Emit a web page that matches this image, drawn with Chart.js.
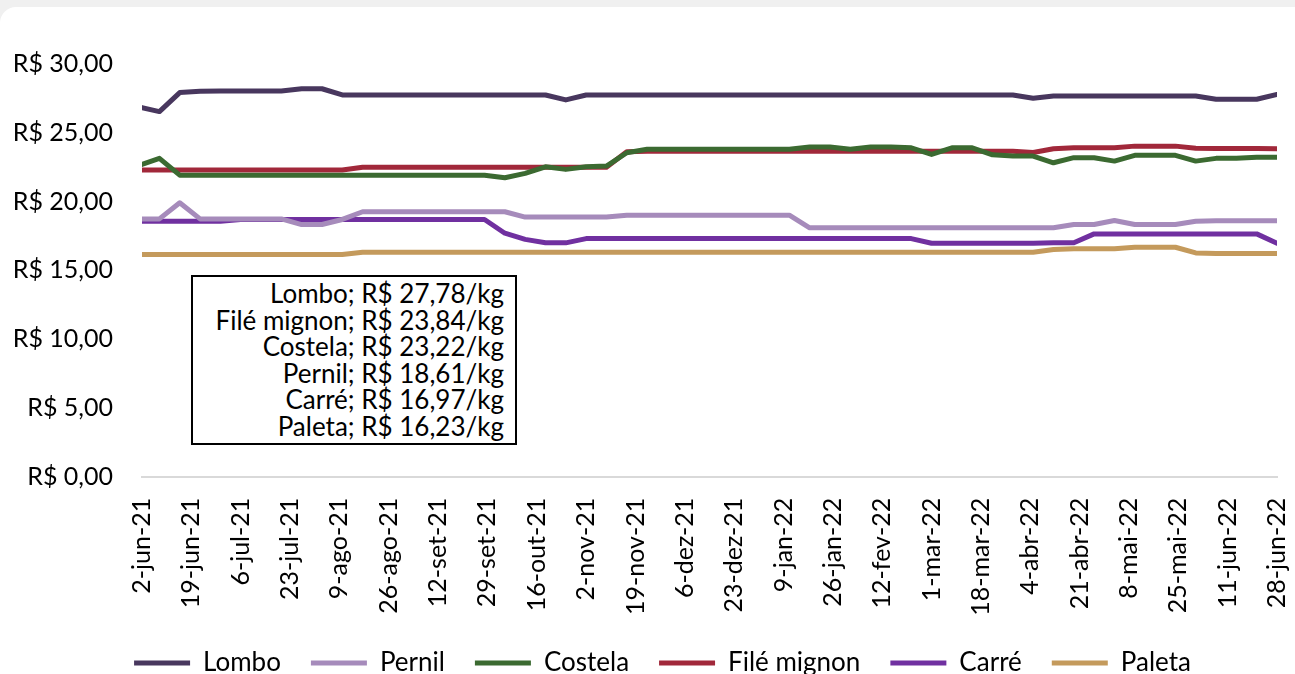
<!DOCTYPE html>
<html>
<head>
<meta charset="utf-8">
<script src="https://cdn.jsdelivr.net/npm/chart.js@4.4.1/dist/chart.umd.min.js"></script>
<style>
    html, body { margin: 0; padding: 0; background: #f0f0f0; overflow: hidden; width: 1295px; height: 674px; }
    #painel { position: absolute; left: 0; top: 7px; width: 1330px; height: 720px; background: #fff; border-top-left-radius: 16px; }
    #grafico { position: absolute; left: 0; top: 0; }
    #caixa {
        position: absolute; left: 191px; top: 268px; width: 326px; height: 170px;
        border: 2px solid #000; background: #fff; box-sizing: border-box;
        font-family: Lato, sans-serif; font-size: 26px; line-height: 26.5px;
        text-align: right; padding: 3px 11px 0 0; color: #000;
    }
</style>
</head>
<body>
<div id="painel">
    <canvas id="grafico" width="1295" height="700"></canvas>
    <div id="caixa"></div>
</div>
<script>
// dias desde 2-jun-21
const dias = [0, 6, 13, 20, 27, 34, 41, 48, 55, 62, 69, 76, 83, 90, 97, 104, 111, 118, 125, 132,
    139, 146, 153, 160, 167, 174, 181, 188, 195, 202, 209, 216, 223, 230, 237, 244, 251, 258, 265, 272,
    279, 286, 293, 300, 307, 314, 321, 328, 335, 342, 349, 356, 363, 370, 377, 384, 391];

const lombo = [26.83, 26.54, 27.92, 28.02, 28.03, 28.03, 28.03, 28.03, 28.2, 28.2,
    27.75, 27.75, 27.75, 27.75, 27.75, 27.75, 27.75, 27.75, 27.75, 27.75,
    27.75, 27.39, 27.75, 27.75, 27.75, 27.75, 27.75, 27.75, 27.75, 27.75,
    27.75, 27.75, 27.75, 27.75, 27.75, 27.75, 27.75, 27.75, 27.75, 27.75,
    27.75, 27.75, 27.75, 27.75, 27.51, 27.68, 27.68, 27.68, 27.68, 27.68,
    27.68, 27.68, 27.68, 27.44, 27.44, 27.44, 27.78];

const pernil = [18.74, 18.74, 19.91, 18.74, 18.74, 18.74, 18.74, 18.74, 18.33, 18.33,
    18.7, 19.26, 19.26, 19.26, 19.26, 19.26, 19.26, 19.26, 19.26, 18.87,
    18.87, 18.87, 18.87, 18.87, 19.01, 19.01, 19.01, 19.01, 19.01, 19.01,
    19.01, 19.01, 19.01, 18.09, 18.09, 18.09, 18.09, 18.09, 18.09, 18.09,
    18.09, 18.09, 18.09, 18.09, 18.09, 18.09, 18.33, 18.33, 18.62, 18.33,
    18.33, 18.33, 18.57, 18.6, 18.6, 18.6, 18.61];

const costela = [22.7, 23.14, 21.92, 21.92, 21.92, 21.92, 21.92, 21.92, 21.92, 21.92,
    21.92, 21.92, 21.92, 21.92, 21.92, 21.92, 21.92, 21.92, 21.73, 22.05,
    22.53, 22.34, 22.53, 22.58, 23.55, 23.8, 23.8, 23.8, 23.8, 23.8,
    23.8, 23.8, 23.8, 23.96, 23.96, 23.8, 23.96, 23.96, 23.91, 23.43,
    23.91, 23.91, 23.4, 23.31, 23.31, 22.82, 23.19, 23.19, 22.94, 23.36,
    23.36, 23.36, 22.94, 23.14, 23.14, 23.22, 23.22];

const fileMignon = [22.29, 22.29, 22.29, 22.29, 22.29, 22.29, 22.29, 22.29, 22.29, 22.29,
    22.29, 22.5, 22.5, 22.5, 22.5, 22.5, 22.5, 22.5, 22.5, 22.5,
    22.5, 22.5, 22.5, 22.5, 23.62, 23.65, 23.65, 23.65, 23.65, 23.65,
    23.65, 23.65, 23.65, 23.65, 23.65, 23.65, 23.65, 23.65, 23.65, 23.65,
    23.65, 23.65, 23.65, 23.65, 23.57, 23.84, 23.91, 23.91, 23.91, 24.03,
    24.03, 24.03, 23.87, 23.86, 23.86, 23.86, 23.84];

const carre = [18.57, 18.57, 18.57, 18.57, 18.57, 18.7, 18.7, 18.7, 18.7, 18.7,
    18.7, 18.7, 18.7, 18.7, 18.7, 18.7, 18.7, 18.7, 17.7, 17.25,
    17.0, 17.0, 17.31, 17.31, 17.31, 17.31, 17.31, 17.31, 17.31, 17.31,
    17.31, 17.31, 17.31, 17.31, 17.31, 17.31, 17.31, 17.31, 17.31, 16.97,
    16.97, 16.97, 16.97, 16.97, 16.97, 17.0, 17.0, 17.65, 17.65, 17.65,
    17.65, 17.65, 17.65, 17.65, 17.65, 17.65, 16.97];

const paleta = [16.15, 16.15, 16.15, 16.15, 16.15, 16.15, 16.15, 16.15, 16.15, 16.15,
    16.15, 16.32, 16.32, 16.32, 16.32, 16.32, 16.32, 16.32, 16.32, 16.32,
    16.32, 16.32, 16.32, 16.32, 16.32, 16.32, 16.32, 16.32, 16.32, 16.32,
    16.32, 16.32, 16.32, 16.32, 16.32, 16.32, 16.32, 16.32, 16.32, 16.32,
    16.32, 16.32, 16.32, 16.32, 16.32, 16.51, 16.57, 16.57, 16.57, 16.68,
    16.68, 16.68, 16.27, 16.23, 16.23, 16.23, 16.23];

const rotulosDatas = ['2-jun-21', '19-jun-21', '6-jul-21', '23-jul-21', '9-ago-21', '26-ago-21',
    '12-set-21', '29-set-21', '16-out-21', '2-nov-21', '19-nov-21', '6-dez-21', '23-dez-21',
    '9-jan-22', '26-jan-22', '12-fev-22', '1-mar-22', '18-mar-22', '4-abr-22', '21-abr-22',
    '8-mai-22', '25-mai-22', '11-jun-22', '28-jun-22'];

const ultimos = [
    'Lombo; R$ 27,78/kg',
    'Filé mignon; R$ 23,84/kg',
    'Costela; R$ 23,22/kg',
    'Pernil; R$ 18,61/kg',
    'Carré; R$ 16,97/kg',
    'Paleta; R$ 16,23/kg'
];

document.getElementById('caixa').innerHTML = ultimos.join('<br>');

function pontos(valores) {
    return valores.map((v, i) => ({ x: dias[i], y: v }));
}

function serie(nome, valores, cor) {
    return {
        label: nome,
        data: pontos(valores),
        borderColor: cor,
        backgroundColor: cor,
        borderWidth: 5,
        pointRadius: 0,
        borderJoinStyle: 'round',
        borderCapStyle: 'round',
        tension: 0
    };
}

// empurra a legenda um pouco para a direita, como no original
const deslocaLegenda = {
    id: 'deslocaLegenda',
    afterLayout(chart) {
        chart.legend.left += 24;
        chart.legend.right += 24;
    }
};

function renderGrafico() {
    const ctx = document.getElementById('grafico');
    const fonte = 'Lato, sans-serif';

    new Chart(ctx, {
        type: 'line',
        data: {
            datasets: [
                serie('Lombo', lombo, '#48375e'),
                serie('Pernil', pernil, '#a68bbb'),
                serie('Costela', costela, '#3b6a31'),
                serie('Filé mignon', fileMignon, '#a1283a'),
                serie('Carré', carre, '#7030a0'),
                serie('Paleta', paleta, '#c49a5c')
            ]
        },
        options: {
            responsive: false,
            animation: false,
            devicePixelRatio: 1,
            layout: {
                padding: { left: 0, right: 18, top: 57, bottom: 21 }
            },
            plugins: {
                tooltip: { enabled: false },
                legend: {
                    position: 'bottom',
                    labels: {
                        usePointStyle: true,
                        pointStyle: 'line',
                        pointStyleWidth: 56,
                        padding: 30,
                        color: '#000',
                        font: { family: fonte, size: 26 }
                    }
                }
            },
            scales: {
                x: {
                    type: 'linear',
                    min: 0,
                    max: 391,
                    grid: { display: false, drawTicks: false },
                    border: { display: true, color: '#d9d9d9', width: 2 },
                    afterFit: s => {
                        s.height = 143.3;
                        s.paddingLeft = 0;
                        s.paddingRight = 0;
                    },
                    ticks: {
                        stepSize: 17,
                        autoSkip: false,
                        minRotation: 90,
                        maxRotation: 90,
                        padding: 21,
                        color: '#000',
                        font: { family: fonte, size: 25 },
                        callback: v => rotulosDatas[Math.round(v / 17)]
                    }
                },
                y: {
                    min: 0,
                    max: 30,
                    grid: { display: false, drawTicks: false },
                    border: { display: false },
                    afterFit: s => { s.width = 142; },
                    ticks: {
                        stepSize: 5,
                        padding: 29,
                        color: '#000',
                        font: { family: fonte, size: 25 },
                        callback: v => 'R$ ' + v.toFixed(2).replace('.', ',')
                    }
                }
            }
        },
        plugins: [deslocaLegenda]
    });
}

renderGrafico();
</script>
</body>
</html>
